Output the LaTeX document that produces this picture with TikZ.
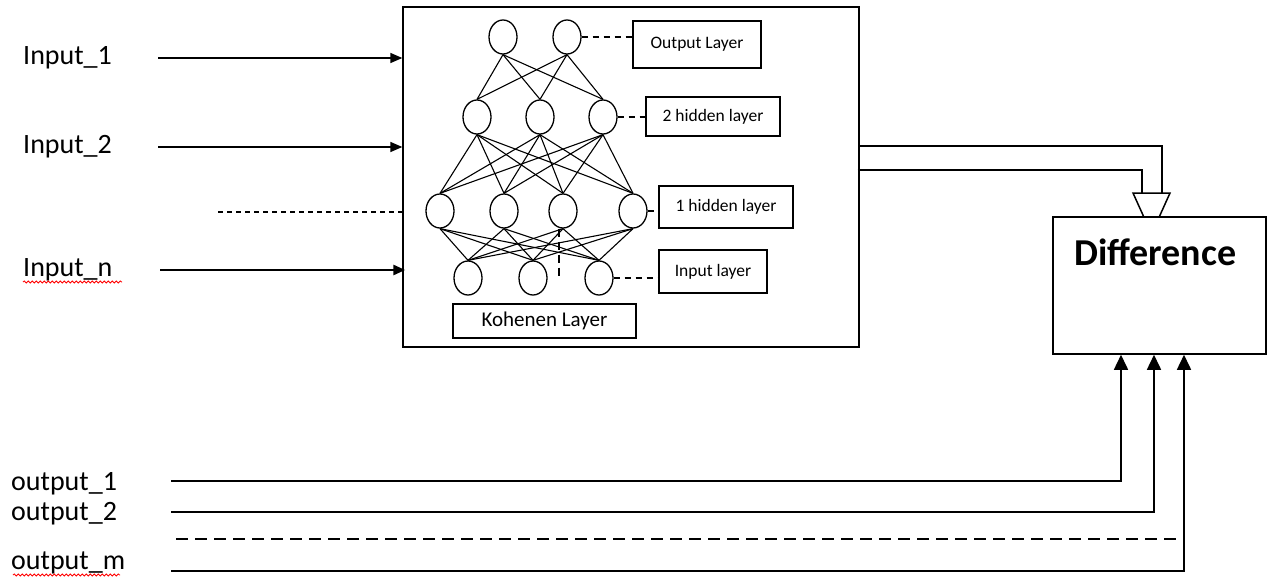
\documentclass[tikz,border=0pt]{standalone}
\usepackage{fontspec}
\setmainfont{Carlito}
\usetikzlibrary{arrows.meta,shapes.geometric,decorations.pathmorphing}

\begin{document}
\begin{tikzpicture}[x=1pt,y=-1pt,
  frame/.style={draw, line width=1.4pt, inner sep=0pt},
  neuron/.style={draw, ellipse, line width=1.3pt, minimum width=28pt, minimum height=34pt, inner sep=0pt},
  lbl/.style={draw, line width=1.4pt, inner sep=0pt, font=\fontsize{17.5}{19}\selectfont},
  wire/.style={line width=1.1pt},
  tag/.style={dash pattern=on 6pt off 5pt, line width=1.2pt},
  feed/.style={line width=1.5pt, -{Triangle[length=12pt,width=10pt]}},
  target/.style={line width=1.5pt, -{Triangle[length=15pt,width=14pt]}},
  sig/.style={anchor=west, inner sep=0pt, font=\fontsize{28}{30}\selectfont},
  spell/.style={red, line width=0.8pt, decorate, decoration={snake, amplitude=1.1pt, segment length=4pt}}
]
\useasboundingbox (0,0) rectangle (1268,578);

% network frame
\node[frame, minimum width=456pt, minimum height=340pt] (net) at (631,177) {};

% neurons
\node[neuron] (o1) at (503,37) {};
\node[neuron] (o2) at (567,37) {};
\node[neuron] (h21) at (477,117) {};
\node[neuron] (h22) at (540,117) {};
\node[neuron] (h23) at (603,117) {};
\node[neuron] (h11) at (440,211) {};
\node[neuron] (h12) at (504,211) {};
\node[neuron] (h13) at (563,211) {};
\node[neuron] (h14) at (633,211) {};
\node[neuron] (i1) at (468,278) {};
\node[neuron] (i2) at (533,278) {};
\node[neuron] (i3) at (599,278) {};

% full connections between layers
\foreach \a in {o1,o2} \foreach \b in {h21,h22,h23} \draw[wire] (\a.south) -- (\b.north);
\foreach \a in {h21,h22,h23} \foreach \b in {h11,h12,h13,h14} \draw[wire] (\a.south) -- (\b.north);
\foreach \a in {h11,h12,h13,h14} \foreach \b in {i1,i2,i3} \draw[wire] (\a.south) -- (\b.north);

% layer labels
\node[lbl, minimum width=128pt, minimum height=47pt] (ol) at (697,44.5) {Output Layer};
\node[lbl, minimum width=134pt, minimum height=39pt] (h2l) at (713,116.5) {2 hidden layer};
\node[lbl, minimum width=134pt, minimum height=42pt] (h1l) at (726,207) {1 hidden layer};
\node[lbl, minimum width=108pt, minimum height=43pt] (il) at (713,271.5) {Input layer};
\node[lbl, minimum width=183pt, minimum height=34pt, font=\fontsize{21}{23}\selectfont] (kl) at (544.5,321) {Kohenen Layer};

\draw[tag] (o2.east) -- (o2.east -| ol.west);
\draw[tag] (h23.east) -- (h23.east -| h2l.west);
\draw[tag] (h14.east) -- (h14.east -| h1l.west);
\draw[tag] (i3.east) -- (i3.east -| il.west);
\coordinate (vd) at (559,280);
\draw[tag, dash pattern=on 8pt off 5pt] (h13.south -| vd) -- (vd);

% inputs
\node[sig] (in1) at (23,58) {Input\_1};
\node[sig] (in2) at (23,147) {Input\_2};
\node[sig] (inn) at (23,270) {Input\_n};
\draw[spell] (23,282) -- (122,282);

\coordinate (s1) at (158,58);
\coordinate (s2) at (158,147);
\coordinate (sd) at (218,212);
\coordinate (sn) at (160,270);
\draw[feed] (s1) -- (s1 -| net.west);
\draw[feed] (s2) -- (s2 -| net.west);
\draw[line width=1.2pt, dash pattern=on 5pt off 4pt] (sd) -- (sd -| net.west);
\draw[feed, line width=2.6pt] (sn) -- ([xshift=3pt]sn -| net.west);

% hollow arrow into the difference block
\coordinate (u1) at (1162,146);
\coordinate (u2) at (1142,170);
\draw[line width=1.5pt, fill=white] (1133,193) -- (1170,193) -- (1151.5,234) -- cycle;
\draw[line width=1.5pt] (net.east |- u1) -- (u1) -- (u1 |- 0,193);
\draw[line width=1.5pt] ([xshift=-2pt]net.east |- u2) -- (u2) -- (u2 |- 0,193);

% difference block
\node[frame, fill=white, line width=1.5pt, minimum width=213pt, minimum height=137pt] (diff) at (1159.5,285.5) {};
\node[anchor=west, inner sep=0pt, font=\fontsize{38}{40}\selectfont\bfseries] (difft) at (1074,252) {Difference};

% target outputs
\node[sig] (out1) at (11,484) {output\_1};
\node[sig] (out2) at (11,514) {output\_2};
\node[sig] (outm) at (11,563) {output\_m};
\draw[spell] (13,575) -- (120,575);

\coordinate (t1) at (1121,481);
\coordinate (t2) at (1154,512);
\coordinate (tm) at (1184,571);
\coordinate (td) at (176,539);
\draw[target] (171,481) -- (t1) -- (t1 |- diff.south);
\draw[target] (171,512) -- (t2) -- (t2 |- diff.south);
\draw[target] (171,571) -- (tm) -- (tm |- diff.south);
\draw[line width=1.5pt, dash pattern=on 12pt off 7pt] (td) -- (td -| tm);
\end{tikzpicture}
\end{document}
